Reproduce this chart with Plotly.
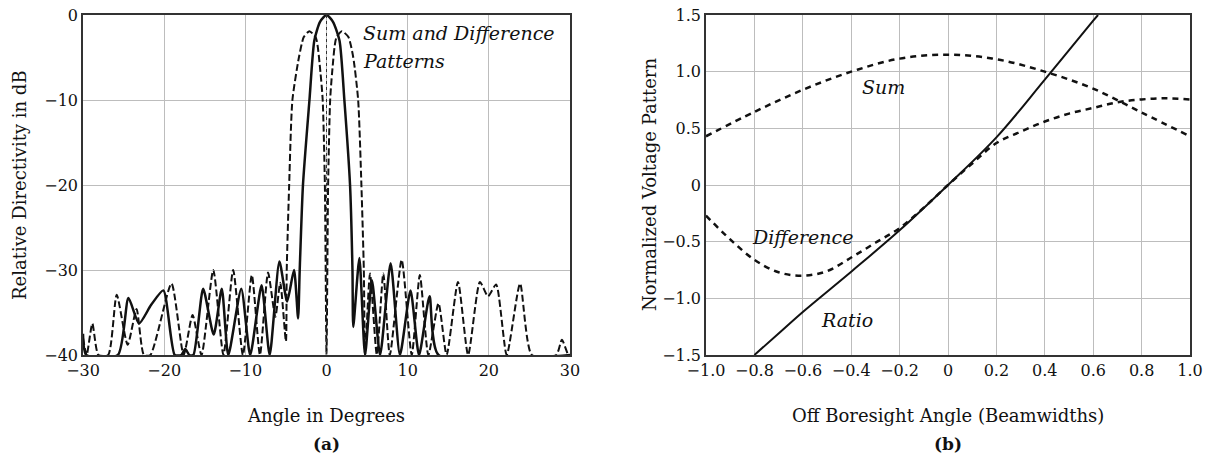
import plotly.graph_objects as go

# ---------------- Panel (a): Sum and Difference patterns (dB) ----------------
sum_a_deg = [-30.0, -29.6, -25.7, -24.4, -23.1, -21.6, -20.1, -18.7, -17.9, -17.4, -16.9,
             -16.4, -15.2, -13.9, -12.9, -12.1, -10.5, -9.4, -8.0, -7.0, -5.8, -4.85,
             -4.0, -3.5, -3.3, -2.9, -2.1, -1.5, -0.8, 0.0, 0.8, 1.6, 2.2, 2.9, 3.2,
             3.3, 4.05, 4.75, 5.6, 6.6, 7.9, 9.05, 10.35, 11.4, 12.7, 13.8, 30.0]
sum_a_db = [-37.5, -40, -40, -33.3, -36.3, -34.1, -32.4, -40, -40, -39.3, -40,
            -40, -32.2, -37.6, -32.2, -40, -32.2, -40, -31.8, -40, -29.0, -33.7,
            -30.0, -35.7, -30.0, -20.0, -10.0, -3.0, -0.8, 0.0, -0.8, -3.0, -10.0, -20.0, -30.0,
            -36.7, -28.6, -40, -31.2, -40, -29.2, -40, -32.4, -40, -33.1, -40, -40]

diff_a_deg = [-30.0, -29.55, -28.85, -28.1, -26.9, -25.85, -24.5, -23.4, -22.5, -21.7,
              -19.1, -17.6, -16.5, -15.4, -13.95, -12.7, -11.5, -10.3, -9.2, -8.2,
              -7.2, -6.3, -5.7, -5.0, -4.9, -4.6, -4.2, -3.4, -2.8, -2.1, -1.3, -0.75,
              -0.47, -0.2, 0.0, 0.2, 0.45, 0.7, 1.2, 1.9, 2.7, 3.3, 3.9, 4.3, 4.6, 4.75,
              5.36, 6.2, 7.0, 7.8, 9.26, 10.5, 11.5, 12.55, 13.8, 14.8, 16.2, 17.45,
              18.9, 19.9, 20.9, 22.2, 23.85, 25.3, 28.3, 29.0, 29.8, 30.0]
diff_a_db = [-38.0, -40, -36.3, -40, -40, -32.9, -38.8, -34.6, -40, -40,
             -31.6, -40, -35.3, -40, -30.0, -40, -30.0, -40, -30.6, -40,
             -30.3, -35.5, -31.5, -38.4, -30.0, -20.0, -10.0, -5.0, -2.6, -1.9, -2.7, -6.7,
             -10.0, -20.0, -40, -20.0, -10.0, -6.7, -2.7, -1.9, -2.6, -5.0, -10.0, -20.0, -30.0, -40,
             -30.4, -40, -30.4, -40, -28.8, -40, -30.6, -40, -33.9, -40, -31.4, -40,
             -31.4, -33.1, -31.7, -40, -31.6, -40, -40, -38.2, -40, -40]

x_a_ticks = [-30, -20, -10, 0, 10, 20, 30]
x_a_labels = ["\u221230", "\u221220", "\u221210", "0", "10", "20", "30"]
y_a_ticks = [0, -10, -20, -30, -40]
y_a_labels = ["0", "\u221210", "\u221220", "\u221230", "\u221240"]

# ---------------- Panel (b): Normalized voltage patterns ----------------
sum_b_x = [-1.0, -0.8, -0.6, -0.4, -0.2, 0.0, 0.2, 0.4, 0.6, 0.8, 1.0]
sum_b_y = [0.43, 0.645, 0.84, 1.0, 1.115, 1.15, 1.11, 1.0, 0.85, 0.64, 0.43]

diff_b_x = [-1.0, -0.9, -0.8, -0.7, -0.6, -0.5, -0.4, -0.3, -0.2, -0.1, 0.0,
            0.1, 0.2, 0.3, 0.4, 0.5, 0.6, 0.7, 0.8, 0.9, 1.0]
diff_b_y = [-0.27, -0.48, -0.66, -0.77, -0.80, -0.76, -0.64, -0.51, -0.38, -0.2, 0.0,
            0.19, 0.37, 0.47, 0.56, 0.63, 0.68, 0.73, 0.755, 0.765, 0.755]

ratio_b_x = [-0.8, -0.7, -0.6, -0.4, -0.2, 0.0, 0.2, 0.4, 0.6, 0.62]
ratio_b_y = [-1.5, -1.31, -1.12, -0.765, -0.40, 0.0, 0.42, 0.93, 1.45, 1.5]

x_b_ticks = [-1.0, -0.8, -0.6, -0.4, -0.2, 0.0, 0.2, 0.4, 0.6, 0.8, 1.0]
x_b_labels = ["\u22121.0", "\u22120.8", "\u22120.6", "\u22120.4", "\u22120.2", "0",
              "0.2", "0.4", "0.6", "0.8", "1.0"]
y_b_ticks = [1.5, 1.0, 0.5, 0.0, -0.5, -1.0, -1.5]
y_b_labels = ["1.5", "1.0", "0.5", "0", "\u22120.5", "\u22121.0", "\u22121.5"]

FONT = "DejaVu Serif"
W, H = 1215, 462

fig = go.Figure()

fig.add_trace(go.Scatter(x=diff_a_deg, y=diff_a_db, mode="lines",
                         line=dict(color="#111", width=2, dash="7px,3px", shape="spline", smoothing=0.6),
                         xaxis="x", yaxis="y", showlegend=False))
fig.add_trace(go.Scatter(x=sum_a_deg, y=sum_a_db, mode="lines",
                         line=dict(color="#111", width=2.5, shape="spline", smoothing=0.6),
                         xaxis="x", yaxis="y", showlegend=False))

fig.add_trace(go.Scatter(x=sum_b_x, y=sum_b_y, mode="lines",
                         line=dict(color="#111", width=2.5, dash="6px,5px", shape="spline"),
                         xaxis="x2", yaxis="y2", showlegend=False))
fig.add_trace(go.Scatter(x=diff_b_x, y=diff_b_y, mode="lines",
                         line=dict(color="#111", width=2.5, dash="6px,5px", shape="spline"),
                         xaxis="x2", yaxis="y2", showlegend=False))
fig.add_trace(go.Scatter(x=ratio_b_x, y=ratio_b_y, mode="lines",
                         line=dict(color="#111", width=2, shape="spline"),
                         xaxis="x2", yaxis="y2", showlegend=False))

axis_common = dict(showgrid=True, gridcolor="#bdbdbd", gridwidth=1, showline=True,
                   linecolor="#333", linewidth=1.5, mirror=True, zeroline=False,
                   automargin=False, ticks="",
                   tickfont=dict(family=FONT, size=16, color="#111"))

xd1 = [83 / W, 570 / W]
xd2 = [706 / W, 1190 / W]
yd = [1 - 355 / H, 1 - 15 / H]

fig.update_layout(
    width=W, height=H, margin=dict(l=0, r=0, t=0, b=0),
    paper_bgcolor="white", plot_bgcolor="white",
    xaxis=dict(domain=xd1, range=[-30, 30], tickvals=x_a_ticks, ticktext=x_a_labels,
               anchor="y", **axis_common),
    yaxis=dict(domain=yd, range=[-40, 0], tickvals=y_a_ticks, ticktext=y_a_labels,
               anchor="x", **axis_common),
    xaxis2=dict(domain=xd2, range=[-1, 1], tickvals=x_b_ticks, ticktext=x_b_labels,
                anchor="y2", **axis_common),
    yaxis2=dict(domain=yd, range=[-1.5, 1.5], tickvals=y_b_ticks, ticktext=y_b_labels,
                anchor="x2", **axis_common),
    shapes=[dict(type="line", xref="x", yref="y", x0=0, x1=0, y0=0, y1=-40,
                 line=dict(color="#333", width=1, dash="dot"), layer="above")],
)

def ann(text, x, y, size=18, italic=False, bold=False, angle=0, xanchor="center"):
    t = text
    if italic:
        t = "<i>" + t + "</i>"
    if bold:
        t = "<b>" + t + "</b>"
    fig.add_annotation(text=t, x=x / W, y=1 - y / H, xref="paper", yref="paper",
                       showarrow=False, textangle=angle, xanchor=xanchor, yanchor="middle",
                       borderpad=0, font=dict(family=FONT, size=size, color="#111"))

ann("Sum and Difference", 362, 33, size=19, italic=True, xanchor="left")
ann("Patterns", 362, 61, size=19, italic=True, xanchor="left")
ann("Relative Directivity in dB", 20, 185, angle=-90)
ann("Angle in Degrees", 326, 415)
ann("(a)", 326, 444, size=17, bold=True)

ann("Sum", 883, 87, size=19, italic=True)
ann("Difference", 802, 237, size=19, italic=True)
ann("Ratio", 847, 320, size=19, italic=True)
ann("Normalized Voltage Pattern", 650, 185, angle=-90)
ann("Off Boresight Angle (Beamwidths)", 948, 415)
ann("(b)", 948, 444, size=17, bold=True)

fig.write_html("out.html")
